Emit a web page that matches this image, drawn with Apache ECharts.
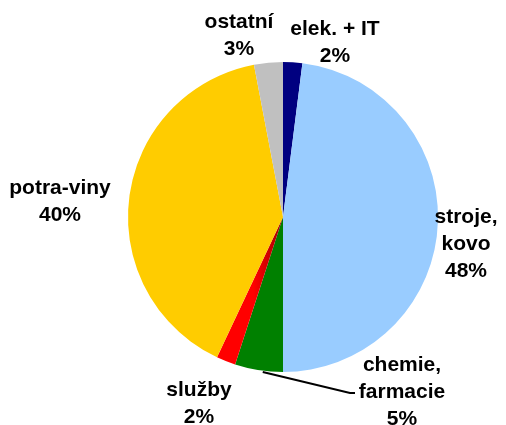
<!DOCTYPE html>
<html>
<head>
<meta charset="utf-8">
<script src="https://cdn.jsdelivr.net/npm/echarts@6/dist/echarts.min.js"></script>
<style>
  html, body { margin: 0; padding: 0; background: #fff; }
  #chart { width: 506px; height: 425px; }
</style>
</head>
<body>
<div id="chart"></div>
<script>
const categories = ['elek. + IT', 'stroje,\nkovo', 'chemie,\nfarmacie', 'služby', 'potra-viny', 'ostatní']
const shares = [2, 48, 5, 2, 40, 3]
const colors = ['#000080', '#99ccff', '#008000', '#ff0000', '#ffcc00', '#c0c0c0']
// label centres
const labelSpots = [[335, 43], [466, 244], [402, 392], [199, 404], [60, 202], [239, 36]]

const chart = echarts.init(document.getElementById('chart'))

const sliceColor = (i) => {
  if (i !== 3) return colors[i]
  // the red slice has a darker edge next to the green one
  return new echarts.graphic.LinearGradient(0, 0, 1, 0, [
    { offset: 0, color: '#ff0000' },
    { offset: 0.55, color: '#ff0000' },
    { offset: 1, color: '#a00000' }
  ])
}

const option = {
  animation: false,
  series: [
    {
      type: 'pie',
      center: [283, 217],
      radius: 155,
      startAngle: 90,
      clockwise: true,
      avoidLabelOverlap: false,
      label: {
        show: true,
        position: 'outside',
        formatter: (p) => `${p.name}\n${p.value}%`,
        fontFamily: 'Liberation Sans, Arial, sans-serif',
        fontWeight: 'bold',
        fontSize: 21,
        lineHeight: 27,
        color: '#000',
        align: 'center'
      },
      labelLine: { show: false },
      labelLayout: (params) => {
        const spot = labelSpots[params.dataIndex]
        const out = { x: spot[0], y: spot[1], align: 'center', verticalAlign: 'middle' }
        if (params.dataIndex === 2 && params.labelLinePoints) {
          const start = params.labelLinePoints[0]
          out.labelLinePoints = [[start[0] + 4, start[1] + 2], [spot[0] - 52, spot[1] + 1], [spot[0] - 47, spot[1] + 1]]
        }
        return out
      },
      data: categories.map((name, i) => ({
        name,
        value: shares[i],
        itemStyle: { color: sliceColor(i) },
        labelLine: i === 2 ? { show: true, lineStyle: { color: '#000', width: 2 } } : { show: false }
      }))
    }
  ]
}

chart.setOption(option)
</script>
</body>
</html>
